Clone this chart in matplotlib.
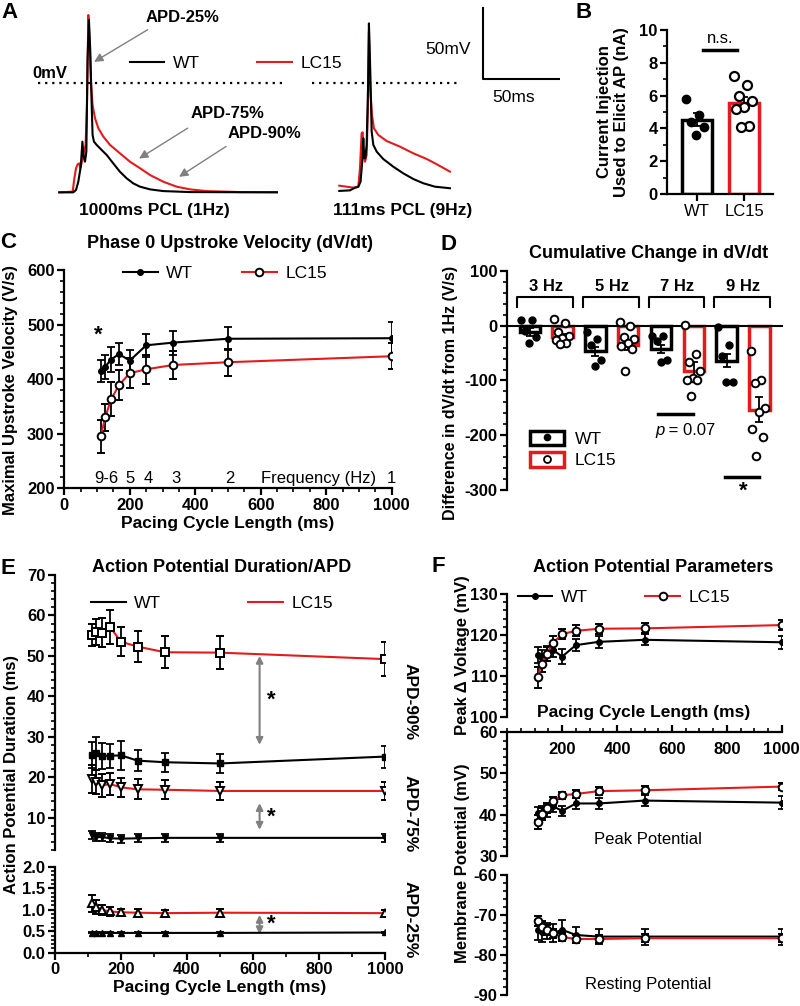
import numpy as np
import matplotlib.pyplot as plt
from matplotlib.patches import Patch
from matplotlib.lines import Line2D
from matplotlib.legend_handler import HandlerTuple
from matplotlib.ticker import MultipleLocator

plt.rcParams['font.family'] = ['Liberation Sans', 'DejaVu Sans']
plt.rcParams['font.weight'] = 'bold'
plt.rcParams['axes.labelweight'] = 'bold'
plt.rcParams['axes.unicode_minus'] = False

RED = '#e41a1c'
GRAY = '#808080'

### ---- data ----
# A: example action potentials (ms from trace start, mV)
t1_wt = [0, 9.2, 11.0, 12.5, 14.1, 15.2, 16.0, 16.9, 17.8, 18.6, 19.5, 20.4, 21.3, 21.9, 22.8,
         24.6, 27.9, 31.2, 35.5, 39.9, 44.3, 48.7, 53.1, 59.7, 68.4, 86.0, 143.2]
v1_wt = [-76.8, -76.8, -75.1, -69.3, -58.7, -41.1, -51.7, -55.2, -48.2, 17.6, 44.6, 22.3, -15.3, -36.4, -41.1,
         -43.4, -47.0, -50.5, -56.4, -62.3, -66.9, -70.5, -72.8, -74.7, -75.9, -76.6, -76.8]
t1_lc = [0, 8.8, 9.9, 11.0, 12.1, 13.2, 13.8, 14.9, 16.0, 17.3, 18.2, 19.1, 20.0, 20.8, 21.9,
         23.5, 25.7, 29.0, 33.4, 39.9, 46.5, 53.1, 59.7, 68.4, 77.2, 86.0, 96.9, 118.9, 143.2]
v1_lc = [-76.8, -76.3, -66.9, -59.8, -57.0, -56.4, -59.8, -55.2, -49.3, -43.4, -15.3, 48.1, 27.0, 1.2, -15.3,
         -24.6, -31.7, -37.6, -43.4, -49.3, -55.2, -59.8, -64.6, -69.3, -72.8, -74.7, -75.9, -76.6, -76.6]
t9_wt = [0, 7.0, 10.3, 12.5, 14.0, 15.1, 15.8, 16.4, 17.1, 18.0, 18.9, 19.5, 20.4, 21.3, 22.4,
         24.6, 28.9, 35.5, 42.1, 48.7, 55.3, 62.9, 72.8]
v9_wt = [-75.8, -75.4, -73.6, -72.9, -69.3, -55.2, -38.7, -52.8, -52.8, -43.4, -3.5, 42.2, 8.2, -34.0, -43.4,
         -48.1, -53.3, -58.7, -63.4, -67.4, -70.4, -72.8, -73.9]
t9_lc = [0, 4.8, 9.2, 12.5, 13.6, 14.7, 15.4, 16.0, 16.9, 18.0, 18.9, 19.5, 20.4, 21.5, 22.8,
         25.7, 31.1, 39.9, 48.7, 57.5, 62.9, 72.8]
v9_lc = [-72.1, -72.8, -73.5, -72.8, -59.9, -35.2, -34.5, -50.5, -55.2, -50.5, -15.3, 36.4, -3.5, -22.3, -31.7,
         -36.4, -40.6, -44.6, -49.3, -53.3, -56.3, -62.2]

# B: current injection (nA)
inj_wt = [5.8, 4.8, 4.4, 4.1, 3.6]
inj_lc = [7.2, 6.65, 6.0, 5.7, 5.3, 5.2, 4.15, 4.1]
inj_err = [0.38, 0.4]

# pacing cycle lengths (ms)
pcl = [111, 125, 143, 167, 200, 250, 333, 500, 1000]

# C: dV/dt (V/s)
dvdt_wt = [415, 423, 436, 446, 434, 462, 467, 474, 475]
dvdt_wt_err = [20, 22, 22, 20, 19, 21, 22, 21, 30]
dvdt_lc = [295, 330, 363, 389, 411, 418, 426, 431, 442]
dvdt_lc_err = [31, 25, 31, 27, 27, 27, 26, 25, 24]
freq_labels = ['9-6', '5', '4', '3', '2', 'Frequency (Hz)', '1']
freq_x = [129, 200, 257, 340, 506, 776, 1000]

# D: change in dV/dt from 1 Hz (V/s)
groups = ['3 Hz', '5 Hz', '7 Hz', '9 Hz']
d_wt_mean = [-11, -47, -42, -64]
d_wt_err = [7, 9, 7, 12]
d_lc_mean = [-20, -36, -82, -153]
d_lc_err = [5, 9, 16, 22]
d_wt_pts = [[10, 11, -9, -21, -32], [-12, -24, -36, -62, -74],
            [-18, -18, -27, -62, -67], [-3, -35, -55, -102, -102]]
d_lc_pts = [[13, 5, -12, -18, -22, -26, -31, -34], [7, 0, -21, -25, -32, -37, -43, -82],
            [1, -52, -66, -82, -96, -99, -99, -128], [-46, -100, -105, -151, -157, -189, -204, -237]]

# E: APD (ms)
apd90_lc = [55.2, 55.8, 55.7, 57.1, 53.5, 52.3, 50.9, 50.8, 49.2]
apd90_lc_err = [2.7, 3.2, 3.6, 4.2, 3.6, 3.9, 3.9, 4.0, 4.2]
apd90_wt = [25.5, 25.9, 25.3, 25.3, 25.4, 24.1, 23.7, 23.4, 25.1]
apd90_wt_err = [3.3, 4.0, 3.2, 2.9, 3.6, 2.6, 2.3, 2.3, 2.7]
apd75_lc = [19.6, 18.9, 18.0, 18.3, 17.5, 17.0, 16.9, 16.6, 16.6]
apd75_lc_err = [3.5, 3.0, 2.8, 2.8, 2.3, 2.5, 2.4, 2.3, 2.3]
apd75_wt = [5.6, 5.2, 5.2, 4.9, 4.8, 4.9, 5.0, 5.0, 5.0]
apd75_wt_err = [1.0, 0.9, 0.9, 1.0, 1.0, 1.0, 1.0, 1.0, 1.0]
apd25_lc = [1.15, 1.07, 0.99, 0.96, 0.94, 0.93, 0.92, 0.93, 0.92]
apd25_lc_err = [0.2, 0.16, 0.12, 0.1, 0.08, 0.08, 0.08, 0.09, 0.08]
apd25_wt = [0.46, 0.46, 0.46, 0.46, 0.46, 0.46, 0.46, 0.46, 0.47]
apd25_wt_err = [0.01, 0.01, 0.01, 0.01, 0.01, 0.01, 0.01, 0.01, 0.01]

# F: AP parameters (mV)
peak_wt = [115.1, 114.3, 115.5, 116.3, 114.7, 117.5, 118.3, 118.8, 118.2]
peak_wt_err = [2.0, 2.0, 1.8, 1.8, 1.8, 1.5, 1.5, 1.3, 1.6]
peak_lc = [109.6, 113.0, 115.3, 118.1, 120.2, 121.0, 121.5, 121.6, 122.4]
peak_lc_err = [2.5, 2.0, 1.8, 1.7, 1.2, 1.3, 1.2, 1.2, 1.2]
pot_wt = [40.3, 40.6, 41.0, 42.0, 40.9, 42.7, 42.7, 43.4, 42.9]
pot_wt_err = [1.6, 1.5, 1.5, 1.4, 1.3, 1.3, 1.3, 1.3, 1.6]
pot_lc = [38.2, 40.2, 41.5, 43.3, 44.7, 45.0, 45.7, 45.9, 46.8]
pot_lc_err = [1.6, 1.4, 1.2, 1.0, 0.9, 0.9, 1.0, 1.0, 0.9]
rest_wt = [-73.7, -74.2, -74.0, -74.5, -73.7, -75.0, -75.4, -75.4, -75.4]
rest_wt_err = [2.5, 2.5, 2.0, 2.3, 2.5, 2.0, 1.8, 2.0, 2.0]
rest_lc = [-71.5, -72.9, -73.7, -74.6, -75.5, -76.0, -76.0, -75.8, -75.8]
rest_lc_err = [1.3, 1.3, 1.2, 1.2, 1.0, 1.0, 1.0, 1.0, 1.0]

### ---- layout helpers (pixel coords, origin top-left) ----
W, H = 800, 1006
fig = plt.figure(figsize=(W/100, H/100), dpi=100)
TICK = 12
LEG = 12.5
TITLE = 13
LAB = 12

def px_axes(x0, y0, x1, y1):
    return fig.add_axes([x0/W, 1-y1/H, (x1-x0)/W, (y1-y0)/H])

def fpt(px, py):
    return (px/W, 1-py/H)

def ftext(px, py, s, **kw):
    kw.setdefault('ha', 'center')
    kw.setdefault('va', 'center')
    fig.text(px/W, 1-py/H, s, **kw)

def style(ax, lw=1.6):
    for s in ('top', 'right'):
        ax.spines[s].set_visible(False)
    for s in ('left', 'bottom'):
        ax.spines[s].set_linewidth(lw)
    ax.tick_params(which='major', length=5, width=lw, labelsize=TICK, pad=2)
    ax.tick_params(which='minor', length=3, width=1.2)

def jitter(n, w):
    return w*2*(((np.arange(n)*0.618) % 1) - 0.5)

EB = dict(capsize=3, elinewidth=1.3, capthick=1.3, ecolor='black', lw=1.5)

def plot_pair(ax, wt, wt_err, lc, lc_err, mk='o', ms_wt=4, ms_lc=5.5):
    ax.errorbar(pcl, wt, yerr=wt_err, color='black', marker=mk, ms=ms_wt, zorder=3, **EB)
    ax.errorbar(pcl, lc, yerr=lc_err, color=RED, marker=mk, ms=ms_lc, mfc='white',
                mec='black', mew=1.4, zorder=4, **EB)

def pair_legend(ax, px, py, spacing, marker=True):
    mk = dict(marker='o') if marker else {}
    h = [Line2D([], [], color='black', ms=4, lw=1.5, **mk),
         Line2D([], [], color=RED, ms=5.5, mfc='white', mec='black', mew=1.4, lw=1.5, **mk)]
    ax.legend(h, ['WT', 'LC15'], ncol=2, frameon=False, prop={'weight': 'normal', 'size': LEG},
              handlelength=2.0, columnspacing=spacing, handletextpad=0.5,
              loc='center', bbox_to_anchor=fpt(px, py), bbox_transform=fig.transFigure)

### ---- A ----
axA = px_axes(0, 0, 560, 215)
axA.set_axis_off()
axA.set_xlim(-59.3/1.52, (560-59.3)/1.52)
axA.set_ylim((83.3-215)/1.42, 83.3/1.42)
off9 = 184.2
axA.plot(t1_lc, v1_lc, color=RED, lw=1.5)
axA.plot(t1_wt, v1_wt, color='black', lw=1.5)
axA.plot(np.array(t9_lc)+off9, v9_lc, color=RED, lw=1.5)
axA.plot(np.array(t9_wt)+off9, v9_wt, color='black', lw=1.5)
axA.hlines(0, -14.3, 147.8, colors='black', linestyles=(0, (1, 2.2)), lw=1.6)
axA.hlines(0, 166.3, 263.0, colors='black', linestyles=(0, (1, 2.2)), lw=1.6)
axA.plot([278.8, 278.8, 328.8], [52.8, 2.8, 2.8], color='black', lw=1.5)
ftext(471, 50, '50mV', ha='right', fontweight='normal', fontsize=12.5)
ftext(514, 97, '50ms', fontweight='normal', fontsize=12.5)
ftext(50, 73, '0mV', fontsize=12)
for lab, (tx, ty), (hx, hy), (sx, sy) in [('APD-25%', (183, 17), (91.7, 63.3), (150, 28.3)),
                                          ('APD-75%', (228, 114), (136.7, 160), (190, 126.7)),
                                          ('APD-90%', (264, 134), (176.7, 178.3), (228.3, 145))]:
    ftext(tx, ty, lab, fontsize=12)
    axA.annotate('', xy=fpt(hx, hy), xytext=fpt(sx, sy), xycoords='figure fraction',
                 textcoords='figure fraction',
                 arrowprops=dict(arrowstyle='-|>', color=GRAY, lw=1.0, mutation_scale=13))
ftext(154.5, 210, '1000ms PCL (1Hz)', fontsize=12.5)
ftext(403, 210, '111ms PCL (9Hz)', fontsize=12.5)
pair_legend(axA, 236, 63, 3.3, marker=False)

### ---- B ----
axB = px_axes(667.3, 30, 773, 194)
style(axB)
axB.set_xlim(-0.62, 1.6)
axB.set_ylim(0, 10)
axB.bar([0, 1], [np.mean(inj_wt), np.mean(inj_lc)], width=0.63, color='white',
        edgecolor=['black', RED], lw=2.5, zorder=1)
axB.errorbar([0, 1], [np.mean(inj_wt), np.mean(inj_lc)], yerr=inj_err, fmt='none', **EB)
axB.plot(jitter(len(inj_wt), 0.22), inj_wt, 'o', color='black', ms=6, zorder=3)
axB.plot(1 + jitter(len(inj_lc), 0.22), inj_lc, 'o', mfc='white', mec='black', mew=1.6, ms=6.5, zorder=3)
axB.plot([0.14, 0.84], [8.8, 8.8], color='black', lw=2.5)
axB.text(0.5, 9.05, 'n.s.', ha='center', va='bottom', fontsize=12, fontweight='normal')
axB.set_xticks([0, 1])
axB.set_xticklabels(['WT', 'LC15'], fontweight='normal', fontsize=12)
axB.set_yticks(range(0, 11, 2))
axB.yaxis.set_minor_locator(MultipleLocator(1))
ftext(613, 112, 'Current Injection\nUsed to Elicit AP (nA)', rotation=90, fontsize=LAB, linespacing=1.1)

### ---- C ----
axC = px_axes(64.3, 270, 391.7, 488.3)
style(axC)
axC.set_xlim(0, 1000)
axC.set_ylim(200, 600)
plot_pair(axC, dvdt_wt, dvdt_wt_err, dvdt_lc, dvdt_lc_err)
axC.set_xticks(range(0, 1001, 200))
axC.set_yticks(range(200, 601, 100))
axC.xaxis.set_minor_locator(MultipleLocator(50))
axC.yaxis.set_minor_locator(MultipleLocator(20))
for fx, fl in zip(freq_x, freq_labels):
    axC.text(fx, 218, fl, ha='center', va='center', fontsize=12, fontweight='normal')
axC.text(104, 481, '*', ha='center', va='center', fontsize=16)
axC.set_xlabel('Pacing Cycle Length (ms)', fontsize=12.5, labelpad=2)
ftext(11, 390, 'Maximal Upstroke Velocity (V/s)', rotation=90, fontsize=LAB)
ftext(230, 243, 'Phase 0 Upstroke Velocity (dV/dt)', fontsize=TITLE)
pair_legend(axC, 225, 273, 2.8)

### ---- D ----
axD = px_axes(507.3, 271, 783, 490)
style(axD)
axD.spines['bottom'].set_visible(False)
axD.set_xticks([])
axD.set_xlim(-0.594, 3.61)
axD.set_ylim(-300, 100)
axD.set_yticks(range(-300, 101, 100))
axD.yaxis.set_minor_locator(MultipleLocator(20))
axD.axhline(0, color='black', lw=1.5, zorder=2)
gx = np.arange(len(groups))
axD.bar(gx-0.25, d_wt_mean, width=0.31, color='white', edgecolor='black', lw=2.5, zorder=1)
axD.bar(gx+0.25, d_lc_mean, width=0.31, color='white', edgecolor=RED, lw=2.5, zorder=1)
axD.errorbar(gx-0.25, d_wt_mean, yerr=d_wt_err, fmt='none', zorder=3, **EB)
axD.errorbar(gx+0.25, d_lc_mean, yerr=d_lc_err, fmt='none', zorder=3, **EB)
for g in gx:
    axD.plot(g-0.25+jitter(len(d_wt_pts[g]), 0.13), d_wt_pts[g], 'o', color='black', ms=5, zorder=4)
    axD.plot(g+0.25+jitter(len(d_lc_pts[g]), 0.13), d_lc_pts[g], 'o', mfc='white', mec='black',
             mew=1.4, ms=5.5, zorder=4)
    axD.plot([g-0.44, g-0.44, g+0.41, g+0.41], [35, 52, 52, 35], color='black', lw=1.5)
    axD.text(g, 72, groups[g], ha='center', va='center', fontsize=12)
axD.plot([1.71, 2.24], [-161, -161], color='black', lw=2.5)
axD.text(1.80, -192, 'p', ha='right', va='center', fontsize=12, fontweight='normal', style='italic')
axD.text(1.80, -192, ' = 0.07', ha='left', va='center', fontsize=12, fontweight='normal')
axD.plot([2.72, 3.25], [-276, -276], color='black', lw=2.5)
axD.text(3.0, -302, '*', ha='center', va='center', fontsize=16)
ftext(649, 253, 'Cumulative Change in dV/dt', fontsize=TITLE)
ftext(451, 393, 'Difference in dV/dt from 1Hz (V/s)', rotation=90, fontsize=11.5)
axD.legend([(Patch(fc='white', ec='black', lw=2.5), Line2D([], [], marker='o', color='black', ls='none', ms=4.5)),
            (Patch(fc='white', ec=RED, lw=2.5), Line2D([], [], marker='o', mfc='white', mec='black', mew=1.3, ls='none', ms=5))],
           ['WT', 'LC15'], handler_map={tuple: HandlerTuple(ndivide=1)},
           frameon=False, prop={'weight': 'normal', 'size': LEG}, handlelength=2.0, handleheight=0.9,
           labelspacing=0.3, handletextpad=0.6,
           loc='lower left', bbox_to_anchor=fpt(514, 484), bbox_transform=fig.transFigure)

### ---- E ----
axE1 = px_axes(55, 575, 385, 850)
axE2 = px_axes(55, 866.7, 385, 952.7)
for ax in (axE1, axE2):
    style(ax)
    ax.set_xlim(0, 1000)
axE1.spines['bottom'].set_visible(False)
axE1.set_xticks([])
axE1.set_ylim(2, 70)
axE1.set_yticks(range(10, 71, 10))
axE1.yaxis.set_minor_locator(MultipleLocator(2))
axE2.set_ylim(0, 2)
axE2.set_yticks(np.arange(0, 2.01, 0.5))
axE2.yaxis.set_major_formatter('{x:.1f}')
axE2.yaxis.set_minor_locator(MultipleLocator(0.1))
axE2.set_xticks(range(0, 1001, 200))
axE2.xaxis.set_minor_locator(MultipleLocator(100))
plot_pair(axE1, apd90_wt, apd90_wt_err, apd90_lc, apd90_lc_err, mk='s', ms_wt=5, ms_lc=6)
plot_pair(axE1, apd75_wt, apd75_wt_err, apd75_lc, apd75_lc_err, mk='v', ms_wt=5, ms_lc=6)
plot_pair(axE2, apd25_wt, apd25_wt_err, apd25_lc, apd25_lc_err, mk='^', ms_wt=4.5, ms_lc=6)
for ax, y0, y1, ys in [(axE1, 28, 50, 39), (axE1, 7.0, 13.6, 10.2), (axE2, 0.43, 0.88, 0.67)]:
    ax.annotate('', xy=(620, y1), xytext=(620, y0),
                arrowprops=dict(arrowstyle='<|-|>', color=GRAY, lw=1.5, mutation_scale=10,
                                shrinkA=0, shrinkB=0))
    ax.text(656, ys, '*', ha='center', va='center', fontsize=16)
axE2.set_xlabel('Pacing Cycle Length (ms)', fontsize=12.5, labelpad=2)
ftext(12, 775, 'Action Potential Duration (ms)', rotation=90, fontsize=LAB)
ftext(222, 568, 'Action Potential Duration/APD', fontsize=TITLE)
for lab, py in [('APD-90%', 702), ('APD-75%', 814), ('APD-25%', 920)]:
    ftext(410, py, lab, rotation=270, fontsize=12.5)
pair_legend(axE1, 212, 603, 5.0, marker=False)

### ---- F ----
axF1 = px_axes(507.3, 594, 781.7, 716.7)
axF2 = px_axes(507.3, 732.3, 781.7, 855.7)
axF3 = px_axes(507.3, 875, 781.7, 995)
for ax in (axF1, axF2, axF3):
    style(ax)
    ax.set_xlim(0, 1000)
    ax.spines['bottom'].set_visible(False)
    ax.yaxis.set_minor_locator(MultipleLocator(2))
axF1.set_xticks([])
axF3.set_xticks([])
axF1.set_ylim(100, 130)
axF1.set_yticks(range(100, 131, 10))
axF2.set_ylim(30, 60)
axF2.set_yticks(range(30, 61, 10))
axF3.set_ylim(-90, -60)
axF3.set_yticks(range(-90, -59, 10))
axF2.spines['top'].set_visible(True)
axF2.spines['top'].set_linewidth(1.6)
axF2.xaxis.tick_top()
axF2.set_xticks(range(200, 1001, 200))
axF2.xaxis.set_minor_locator(MultipleLocator(50))
axF2.tick_params(axis='x', which='major', labeltop=True, pad=-23)
plot_pair(axF1, peak_wt, peak_wt_err, peak_lc, peak_lc_err)
plot_pair(axF2, pot_wt, pot_wt_err, pot_lc, pot_lc_err)
plot_pair(axF3, rest_wt, rest_wt_err, rest_lc, rest_lc_err)
ftext(644, 713, 'Pacing Cycle Length (ms)', fontsize=12.5)
ftext(648, 840, 'Peak Potential', fontsize=12, fontweight='normal')
ftext(648, 984, 'Resting Potential', fontsize=12, fontweight='normal')
ftext(462, 655, 'Peak \u0394 Voltage (mV)', rotation=90, fontsize=LAB)
ftext(462, 863, 'Membrane Potential (mV)', rotation=90, fontsize=LAB)
ftext(653, 567, 'Action Potential Parameters', fontsize=TITLE)
pair_legend(axF1, 624, 597, 3.3)

### ---- panel letters ----
for lab, px, py in [('A', 9, 12), ('B', 584, 12), ('C', 8, 243), ('D', 449, 245), ('E', 8, 568), ('F', 438, 567)]:
    ftext(px, py, lab, fontsize=16)

fig.savefig('out.png', dpi=100)
